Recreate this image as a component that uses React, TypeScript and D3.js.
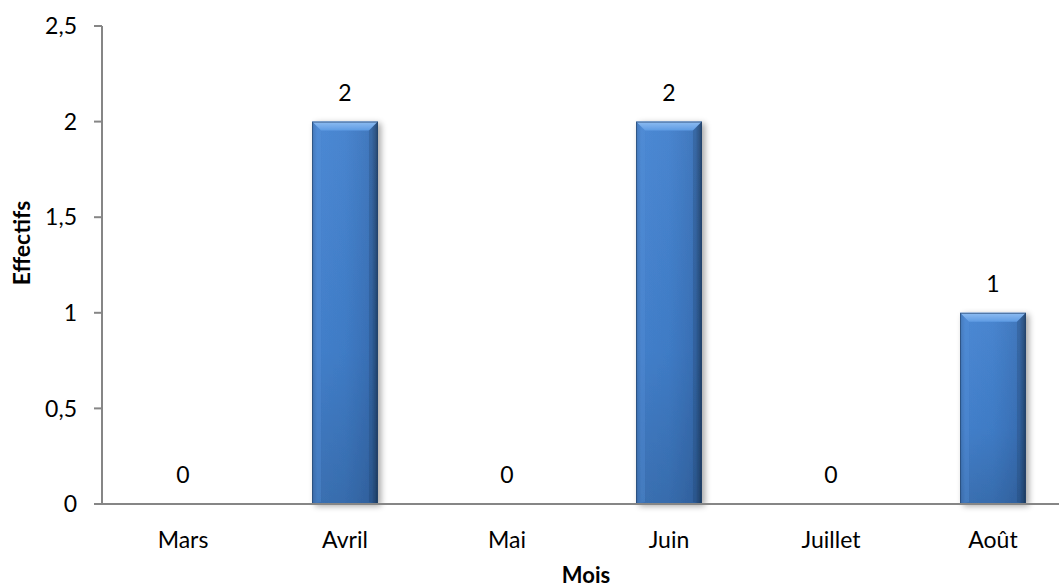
import React from "react";
import * as d3 from "d3";

// Monthly counts
const months: string[] = ["Mars", "Avril", "Mai", "Juin", "Juillet", "Août"];
const effectifs: number[] = [0, 2, 0, 2, 0, 1];
const yTicks: number[] = [0, 0.5, 1, 1.5, 2, 2.5];
const yTickLabels: string[] = ["0", "0,5", "1", "1,5", "2", "2,5"];

const W = 1059;
const H = 588;
const FONT = "Lato, 'Noto Sans', 'Liberation Sans', sans-serif";
const FS = 23;

export default function App() {
  const axisX = 102;
  const x = d3
    .scaleBand<string>()
    .domain(months)
    .range([102, 102 + 162 * months.length])
    .paddingInner(0.593)
    .paddingOuter(0.2965);
  const y = d3.scaleLinear().domain([0, 2.5]).range([504, 26]);
  const bw = x.bandwidth();
  const bevel = 9;

  return (
    <div style={{ position: "absolute", left: 0, top: 0 }}>
      <svg width={W} height={H} style={{ display: "block", background: "#fff" }}>
        <defs>
          <linearGradient id="barH" x1="0" x2="1" y1="0" y2="0">
            <stop offset="0" stopColor="#3567a8" />
            <stop offset="0.08" stopColor="#4584d2" />
            <stop offset="0.5" stopColor="#4180cd" />
            <stop offset="0.9" stopColor="#3a72ba" />
            <stop offset="0.97" stopColor="#2b5488" />
            <stop offset="1" stopColor="#1f3d63" />
          </linearGradient>
          <linearGradient id="barV" x1="0" x2="0" y1="0" y2="1">
            <stop offset="0" stopColor="#ffffff" stopOpacity="0.04" />
            <stop offset="0.6" stopColor="#000000" stopOpacity="0.04" />
            <stop offset="1" stopColor="#000000" stopOpacity="0.16" />
          </linearGradient>
          <linearGradient id="bevelTop" x1="0" x2="0" y1="0" y2="1">
            <stop offset="0" stopColor="#8fbdf2" />
            <stop offset="1" stopColor="#5e9be3" />
          </linearGradient>
          <filter id="shadow" x="-20%" y="-5%" width="150%" height="115%">
            <feGaussianBlur in="SourceAlpha" stdDeviation="3" />
            <feOffset dx="3" dy="2" result="b" />
            <feComponentTransfer>
              <feFuncA type="linear" slope="0.35" />
            </feComponentTransfer>
            <feMerge>
              <feMergeNode />
              <feMergeNode in="SourceGraphic" />
            </feMerge>
          </filter>
        </defs>

        {/* bars */}
        {months.map((m, i) => {
          const v = effectifs[i];
          if (v <= 0) return null;
          const x0 = x(m)!;
          const y0 = y(v);
          const h = y(0) - y0;
          return (
            <g key={m} filter="url(#shadow)">
              <rect x={x0} y={y0} width={bw} height={h} fill="url(#barH)" />
              <rect x={x0} y={y0} width={bw} height={h} fill="url(#barV)" />
              <path
                d={`M${x0},${y0} L${x0 + bw},${y0} L${x0 + bw - bevel},${y0 + bevel} L${x0 + bevel},${y0 + bevel} Z`}
                fill="url(#bevelTop)"
              />
              <path
                d={`M${x0},${y0} L${x0 + bevel},${y0 + bevel} L${x0 + bevel},${y0 + h - 2} L${x0},${y0 + h} Z`}
                fill="#5690d8"
                opacity={0.35}
              />
              <path
                d={`M${x0 + bw},${y0} L${x0 + bw - bevel},${y0 + bevel} L${x0 + bw - bevel},${y0 + h - 2} L${x0 + bw},${y0 + h} Z`}
                fill="#1d3a60"
                opacity={0.25}
              />
              <rect
                x={x0 + 0.5}
                y={y0 + 0.5}
                width={bw - 1}
                height={h - 1}
                fill="none"
                stroke="#24456f"
                strokeWidth={1}
                strokeOpacity={0.7}
              />
            </g>
          );
        })}

        {/* axes */}
        <line x1={axisX} x2={axisX} y1={y(2.5)} y2={y(0)} stroke="#868686" strokeWidth={2} />
        <line x1={94} x2={W} y1={y(0)} y2={y(0)} stroke="#868686" strokeWidth={2} />
        {yTicks.map((t, i) => (
          <g key={t}>
            <line x1={94} x2={axisX} y1={y(t)} y2={y(t)} stroke="#868686" strokeWidth={2} />
            <text
              x={77}
              y={y(t)}
              dy="0.36em"
              textAnchor="end"
              fontFamily={FONT}
              fontSize={FS}
              fill="#000"
            >
              {yTickLabels[i]}
            </text>
          </g>
        ))}

        {/* category labels */}
        {months.map((m) => (
          <text
            key={m}
            x={x(m)! + bw / 2}
            y={548}
            textAnchor="middle"
            fontFamily={FONT}
            fontSize={FS}
            fill="#000"
          >
            {m}
          </text>
        ))}

        {/* value labels */}
        {months.map((m, i) => (
          <text
            key={m}
            x={x(m)! + bw / 2}
            y={y(effectifs[i]) - 21}
            textAnchor="middle"
            fontFamily={FONT}
            fontSize={FS}
            fill="#000"
          >
            {effectifs[i]}
          </text>
        ))}

        {/* axis titles */}
        <text
          x={586}
          y={583}
          textAnchor="middle"
          fontFamily={FONT}
          fontSize={22}
          fontWeight="bold"
          fill="#000"
        >
          Mois
        </text>
        <text
          transform={`translate(30,${243}) rotate(-90)`}
          textAnchor="middle"
          fontFamily={FONT}
          fontSize={FS}
          fontWeight="bold"
          fill="#000"
        >
          Effectifs
        </text>
      </svg>
    </div>
  );
}
